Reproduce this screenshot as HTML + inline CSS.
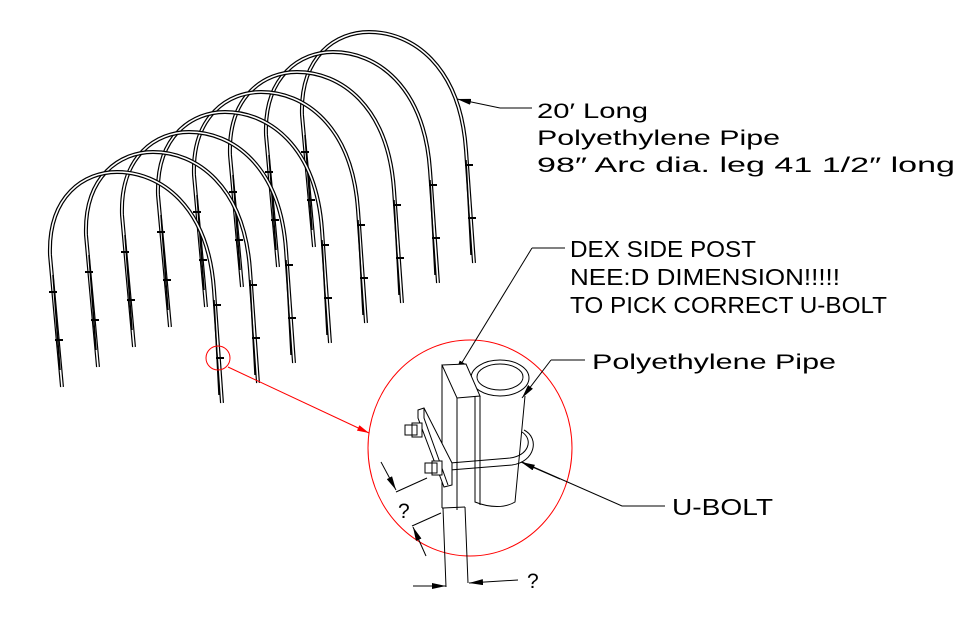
<!DOCTYPE html>
<html><head><meta charset="utf-8"><style>
html,body{margin:0;padding:0;background:#fff;width:973px;height:618px;overflow:hidden}
svg text{font-family:"Liberation Sans",sans-serif;fill:#000}
</style></head><body>
<svg width="973" height="618" viewBox="0 0 973 618" xmlns="http://www.w3.org/2000/svg">
<defs>
<g id="arch">
  <path d="M62,387 L50,255 C48,195 85,172 117,172 C160,172 208,205 214,290 L222,403" fill="none" stroke="#000" stroke-width="4"/>
  <path d="M62,387 L50,255 C48,195 85,172 117,172 C160,172 208,205 214,290 L222,403" fill="none" stroke="#fff" stroke-width="1.6"/>
  <path d="M53,275 L60,370 M214,300 L219,395" stroke="#000" stroke-width="1.5"/>
  <path d="M49,292 h8 M55,340 h8 M213,305 h8 M216,358 h8" stroke="#000" stroke-width="2"/>
</g>
<marker id="ar" markerWidth="14" markerHeight="6" refX="14" refY="3" orient="auto" markerUnits="userSpaceOnUse"><path d="M0,0 L14,3 L0,6z" fill="#000"/></marker>
<marker id="arr" markerWidth="12" markerHeight="6" refX="12" refY="3" orient="auto" markerUnits="userSpaceOnUse"><path d="M0,0 L12,3 L0,6z" fill="red"/></marker>
</defs>
<use href="#arch" transform="translate(252,-140)"/>
<use href="#arch" transform="translate(216,-120)"/>
<use href="#arch" transform="translate(180,-100)"/>
<use href="#arch" transform="translate(144,-80)"/>
<use href="#arch" transform="translate(108,-60)"/>
<use href="#arch" transform="translate(72,-40)"/>
<use href="#arch" transform="translate(36,-20)"/>
<use href="#arch"/>

<!-- red callout -->
<circle cx="218" cy="358" r="12" fill="none" stroke="red" stroke-width="1"/>
<line x1="228" y1="367" x2="369" y2="433" stroke="red" stroke-width="1" marker-end="url(#arr)"/>
<ellipse cx="470" cy="448" rx="102" ry="108" fill="none" stroke="red" stroke-width="1"/>

<!-- labels -->
<line x1="500" y1="108" x2="457" y2="99" stroke="#000" marker-end="url(#ar)"/>
<line x1="500" y1="108" x2="532" y2="108" stroke="#000"/>
<text x="537" y="118" font-size="21" textLength="111" lengthAdjust="spacingAndGlyphs">20′ Long</text>
<text x="537" y="145" font-size="21" textLength="243" lengthAdjust="spacingAndGlyphs">Polyethylene Pipe</text>
<text x="537" y="172" font-size="21" textLength="418" lengthAdjust="spacingAndGlyphs">98″ Arc dia. leg 41 1/2″ long</text>

<line x1="532" y1="248" x2="565" y2="248" stroke="#000"/>
<line x1="532" y1="248" x2="455" y2="374" stroke="#000" marker-end="url(#ar)"/>
<text x="570" y="257" font-size="23" textLength="186" lengthAdjust="spacingAndGlyphs">DEX SIDE POST</text>
<text x="570" y="285" font-size="23" textLength="270" lengthAdjust="spacingAndGlyphs">NEE:D DIMENSION!!!!!</text>
<text x="570" y="313" font-size="23" textLength="317" lengthAdjust="spacingAndGlyphs">TO PICK CORRECT U-BOLT</text>

<line x1="551" y1="360" x2="585" y2="360" stroke="#000"/>
<line x1="551" y1="360" x2="522" y2="398" stroke="#000" marker-end="url(#ar)"/>
<text x="592" y="369" font-size="21" textLength="244" lengthAdjust="spacingAndGlyphs">Polyethylene Pipe</text>

<polyline points="665,506 622,506 522,462" fill="none" stroke="#000"/>
<line x1="560" y1="479" x2="521" y2="462" stroke="#000" marker-end="url(#ar)"/>
<text x="672" y="515" font-size="23" textLength="101" lengthAdjust="spacingAndGlyphs">U-BOLT</text>

<!-- detail drawing -->
<g fill="none" stroke="#000" stroke-width="1">
  <!-- pipe -->
  <path d="M475,385 L475,502 C490,508 505,508 515,502 L525,396"/>
  <ellipse cx="500" cy="378" rx="29" ry="18" fill="#fff"/>
  <ellipse cx="500" cy="377" rx="23" ry="13"/>
  <!-- post box -->
  <path d="M442,365 L466,364 L480,396 L457,398 Z" fill="#fff"/>
  <path d="M442,365 L442,508 M457,398 L457,510 M480,396 L480,505" />
  <path d="M442,508 L443,508 L465,507" />
  <path d="M443,508 L446,587 M465,507 L468,583"/>
  <!-- u-bolt -->
  <path d="M450,463 L510,458 C528,456 534,440 522,432 M450,470 L512,465 C535,462 540,438 524,430"/>
  <!-- plate -->
  <path d="M418,410 L424,408 L452,463 L452,485 L444,487 L418,418 Z" fill="#fff"/>
  <path d="M424,408 L424,418 L448,485"/>
  <!-- nuts -->
  <path d="M405,425 h12 v10 h-12 z M412,423 h10 v14 h-10 z" fill="#fff"/>
  <path d="M425,463 h12 v10 h-12 z M432,461 h10 v14 h-10 z" fill="#fff"/>
  <!-- dimension lines -->
  <line x1="381" y1="462" x2="396" y2="490" marker-end="url(#ar)"/>
  <line x1="396" y1="492" x2="427" y2="478"/>
  <line x1="412" y1="526" x2="441" y2="513"/>
  <line x1="426" y1="556" x2="413" y2="527" marker-end="url(#ar)"/>
  <line x1="413" y1="586" x2="446" y2="586" marker-end="url(#ar)"/>
  <line x1="518" y1="580" x2="469" y2="583" marker-end="url(#ar)"/>
</g>
<text x="398" y="518" font-size="21">?</text>
<text x="527" y="588" font-size="21">?</text>
</svg>
</body></html>
